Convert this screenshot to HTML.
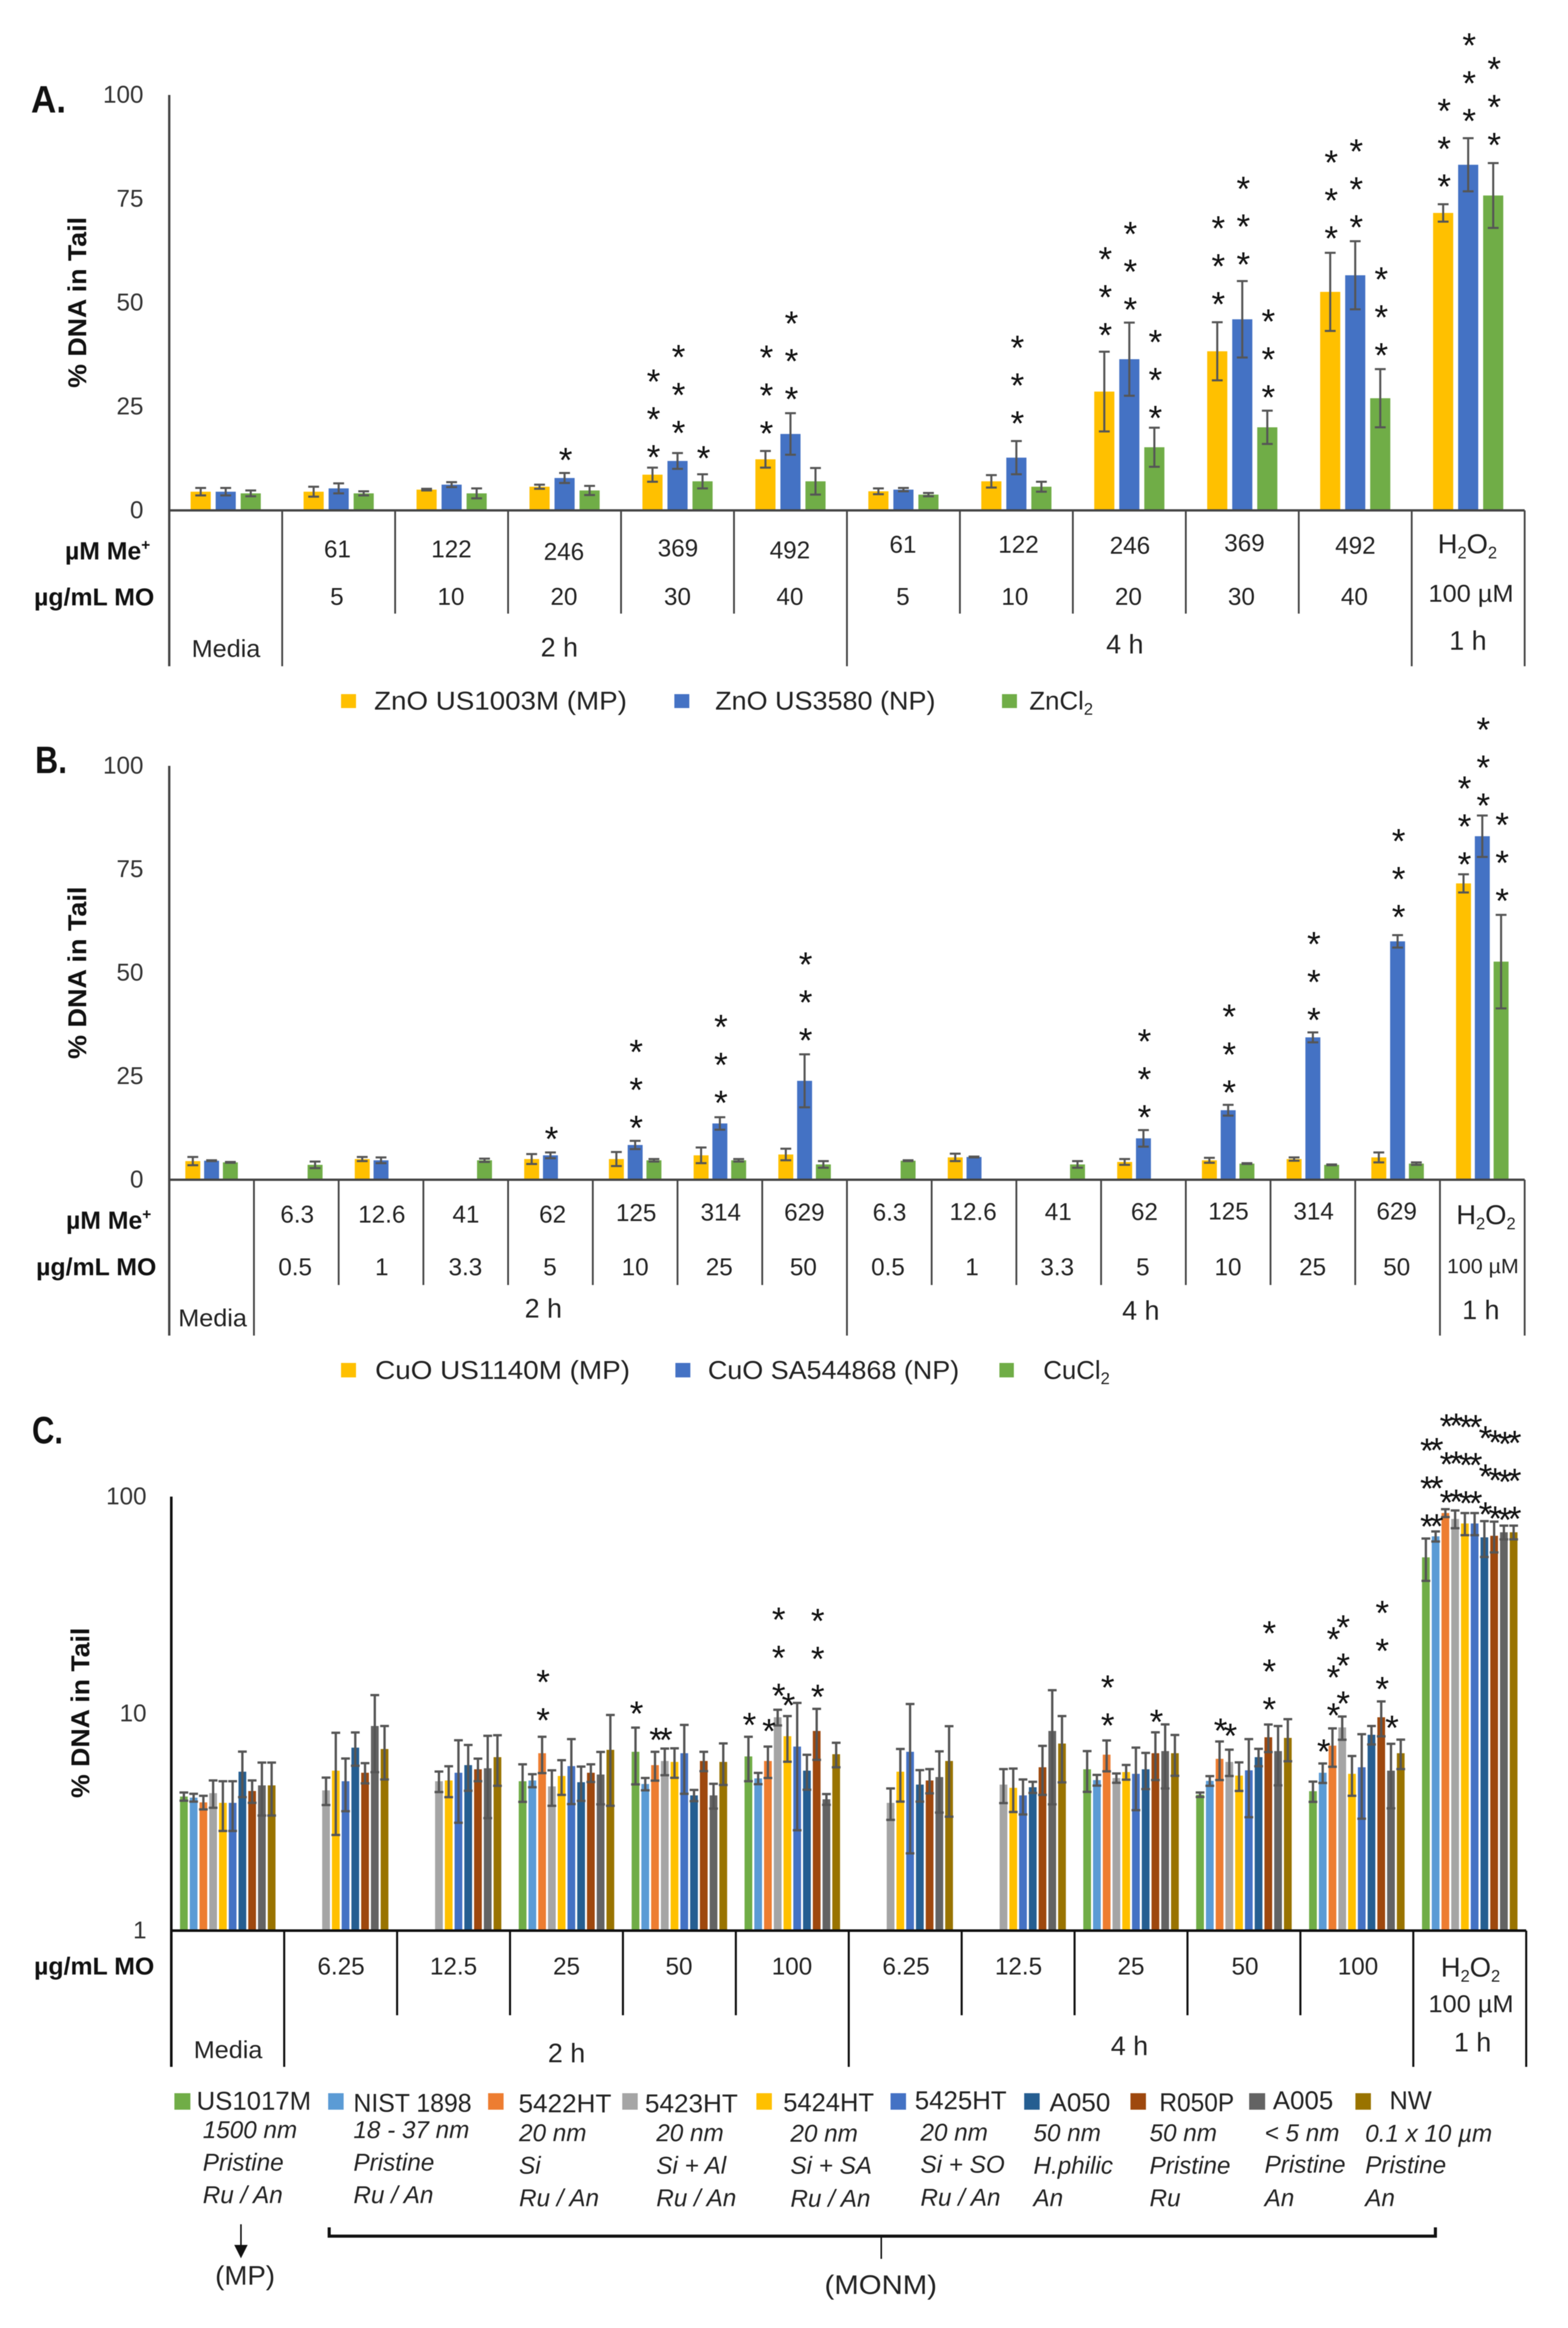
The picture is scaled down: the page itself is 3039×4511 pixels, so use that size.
<!DOCTYPE html>
<html lang="en">
<head>
<meta charset="utf-8">
<title>% DNA in Tail comet assay charts</title>
<style>
html,body{margin:0;padding:0;background:#fff;}
svg{display:block;filter:blur(0.9px);}
text{font-family:"Liberation Sans",sans-serif;fill:#222;}
.c{font-size:47px;text-anchor:middle;}
.h{font-size:52px;text-anchor:middle;}
.b{font-weight:700;fill:#111;}
.lg{font-size:50px;}
.i{font-size:47px;font-style:italic;}
</style>
</head>
<body>
<svg id="figure" xmlns="http://www.w3.org/2000/svg" width="3039" height="4511" viewBox="0 0 3039 4511">
<rect x="0" y="0" width="3039" height="4511" fill="#ffffff"/>

<!-- PANEL A -->
<g id="chart-a"></g>
<g>
<text class="b" x="60" y="218" font-size="74" textLength="68" lengthAdjust="spacingAndGlyphs">A.</text>
<text class="b" transform="translate(167,586) rotate(-90)" font-size="50" text-anchor="middle" textLength="331" lengthAdjust="spacingAndGlyphs">% DNA in Tail</text>
<text class="b" x="126" y="1084" font-size="48">µM Me<tspan font-size="30" dy="-18">+</tspan></text>
<text class="b" x="66" y="1173" font-size="47" textLength="233" lengthAdjust="spacingAndGlyphs">µg/mL MO</text>
<text class="c" x="654" y="1080">61</text>
<text class="c" x="875" y="1080">122</text>
<text class="c" x="1093" y="1085">246</text>
<text class="c" x="1314" y="1078">369</text>
<text class="c" x="1531" y="1082">492</text>
<text class="c" x="1750" y="1071">61</text>
<text class="c" x="1974" y="1071">122</text>
<text class="c" x="2190" y="1073">246</text>
<text class="c" x="2412" y="1068">369</text>
<text class="c" x="2627" y="1073">492</text>
<text class="c" x="2844" y="1072" style="font-size:53px">H<tspan font-size="32" dy="10">2</tspan><tspan dy="-10">O</tspan><tspan font-size="32" dy="10">2</tspan></text>
<text class="c" x="653" y="1172">5</text>
<text class="c" x="874" y="1172">10</text>
<text class="c" x="1093" y="1172">20</text>
<text class="c" x="1313" y="1172">30</text>
<text class="c" x="1531" y="1172">40</text>
<text class="c" x="1750" y="1172">5</text>
<text class="c" x="1967" y="1172">10</text>
<text class="c" x="2187" y="1172">20</text>
<text class="c" x="2406" y="1172">30</text>
<text class="c" x="2625" y="1172">40</text>
<text class="c" x="2851" y="1166" textLength="165" lengthAdjust="spacingAndGlyphs">100 µM</text>
<text class="c" x="438" y="1273" textLength="133" lengthAdjust="spacingAndGlyphs">Media</text>
<text class="h" x="1084" y="1272">2 h</text>
<text class="h" x="2180" y="1266">4 h</text>
<text class="h" x="2845" y="1259">1 h</text>
</g>
<g>
<rect x="661" y="1345" width="29" height="27" fill="#FFC000"/>
<text class="lg" x="725" y="1375" textLength="490" lengthAdjust="spacingAndGlyphs">ZnO US1003M (MP)</text>
<rect x="1307" y="1345" width="29" height="27" fill="#4472C4"/>
<text class="lg" x="1386" y="1375" textLength="427" lengthAdjust="spacingAndGlyphs">ZnO US3580 (NP)</text>
<rect x="1942" y="1345" width="29" height="27" fill="#70AD47"/>
<text class="lg" x="1995" y="1375">ZnCl<tspan font-size="32" dy="10">2</tspan></text>
</g>

<!-- PANEL B -->
<g id="chart-b"></g>
<g>
<text class="b" x="68" y="1498" font-size="74" textLength="62" lengthAdjust="spacingAndGlyphs">B.</text>
<text class="b" transform="translate(167,1885) rotate(-90)" font-size="50" text-anchor="middle" textLength="334" lengthAdjust="spacingAndGlyphs">% DNA in Tail</text>
<text class="b" x="128" y="2381" font-size="48">µM Me<tspan font-size="30" dy="-18">+</tspan></text>
<text class="b" x="70" y="2471" font-size="47" textLength="233" lengthAdjust="spacingAndGlyphs">µg/mL MO</text>
<text class="c" x="576" y="2369">6.3</text>
<text class="c" x="740" y="2369">12.6</text>
<text class="c" x="903" y="2369">41</text>
<text class="c" x="1071" y="2369">62</text>
<text class="c" x="1233" y="2366">125</text>
<text class="c" x="1397" y="2365">314</text>
<text class="c" x="1559" y="2365">629</text>
<text class="c" x="1724" y="2365">6.3</text>
<text class="c" x="1886" y="2364">12.6</text>
<text class="c" x="2051" y="2364">41</text>
<text class="c" x="2218" y="2364">62</text>
<text class="c" x="2381" y="2363">125</text>
<text class="c" x="2546" y="2363">314</text>
<text class="c" x="2707" y="2363">629</text>
<text class="c" x="2880" y="2372" style="font-size:53px">H<tspan font-size="32" dy="10">2</tspan><tspan dy="-10">O</tspan><tspan font-size="32" dy="10">2</tspan></text>
<text class="c" x="572" y="2471">0.5</text>
<text class="c" x="740" y="2471">1</text>
<text class="c" x="902" y="2471">3.3</text>
<text class="c" x="1066" y="2471">5</text>
<text class="c" x="1231" y="2471">10</text>
<text class="c" x="1394" y="2471">25</text>
<text class="c" x="1557" y="2471">50</text>
<text class="c" x="1721" y="2471">0.5</text>
<text class="c" x="1884" y="2471">1</text>
<text class="c" x="2049" y="2471">3.3</text>
<text class="c" x="2215" y="2471">5</text>
<text class="c" x="2380" y="2471">10</text>
<text class="c" x="2544" y="2471">25</text>
<text class="c" x="2707" y="2471">50</text>
<text class="c" x="2874" y="2467" style="font-size:40px" textLength="139" lengthAdjust="spacingAndGlyphs">100 µM</text>
<text class="c" x="412" y="2570" textLength="133" lengthAdjust="spacingAndGlyphs">Media</text>
<text class="h" x="1053" y="2553">2 h</text>
<text class="h" x="2211" y="2557">4 h</text>
<text class="h" x="2870" y="2556">1 h</text>
</g>
<g>
<rect x="661" y="2641" width="29" height="28" fill="#FFC000"/>
<text class="lg" x="727" y="2672" textLength="494" lengthAdjust="spacingAndGlyphs">CuO US1140M (MP)</text>
<rect x="1309" y="2641" width="29" height="28" fill="#4472C4"/>
<text class="lg" x="1372" y="2672" textLength="487" lengthAdjust="spacingAndGlyphs">CuO SA544868 (NP)</text>
<rect x="1937" y="2641" width="28" height="28" fill="#70AD47"/>
<text class="lg" x="2022" y="2672">CuCl<tspan font-size="32" dy="10">2</tspan></text>
</g>

<!-- PANEL C -->
<g id="chart-c"></g>
<g>
<text class="b" x="62" y="2797" font-size="74" textLength="60" lengthAdjust="spacingAndGlyphs">C.</text>
<text class="b" transform="translate(173,3319) rotate(-90)" font-size="50" text-anchor="middle" textLength="330" lengthAdjust="spacingAndGlyphs">% DNA in Tail</text>
<text class="b" x="66" y="3826" font-size="47" textLength="233" lengthAdjust="spacingAndGlyphs">µg/mL MO</text>
<text class="c" x="661" y="3826">6.25</text>
<text class="c" x="879" y="3826">12.5</text>
<text class="c" x="1098" y="3826">25</text>
<text class="c" x="1316" y="3826">50</text>
<text class="c" x="1535" y="3826">100</text>
<text class="c" x="1756" y="3826">6.25</text>
<text class="c" x="1974" y="3826">12.5</text>
<text class="c" x="2192" y="3826">25</text>
<text class="c" x="2413" y="3826">50</text>
<text class="c" x="2632" y="3826">100</text>
<text class="c" x="2850" y="3830" style="font-size:53px">H<tspan font-size="32" dy="10">2</tspan><tspan dy="-10">O</tspan><tspan font-size="32" dy="10">2</tspan></text>
<text class="c" x="2851" y="3899" textLength="165" lengthAdjust="spacingAndGlyphs">100 µM</text>
<text class="c" x="442" y="3988" textLength="133" lengthAdjust="spacingAndGlyphs">Media</text>
<text class="h" x="1098" y="3996">2 h</text>
<text class="h" x="2189" y="3982">4 h</text>
<text class="h" x="2854" y="3975">1 h</text>
</g>
<g>
<rect x="338" y="4056" width="31" height="32" fill="#70AD47"/>
<text class="lg" x="381" y="4088" textLength="222" lengthAdjust="spacingAndGlyphs">US1017M</text>
<rect x="636" y="4056" width="30" height="32" fill="#5B9BD5"/>
<text class="lg" x="685" y="4092" textLength="229" lengthAdjust="spacingAndGlyphs">NIST 1898</text>
<rect x="946" y="4056" width="30" height="32" fill="#ED7D31"/>
<text class="lg" x="1005" y="4093" textLength="180" lengthAdjust="spacingAndGlyphs">5422HT</text>
<rect x="1206" y="4056" width="30" height="32" fill="#A5A5A5"/>
<text class="lg" x="1250" y="4093" textLength="180" lengthAdjust="spacingAndGlyphs">5423HT</text>
<rect x="1466" y="4056" width="30" height="32" fill="#FFC000"/>
<text class="lg" x="1518" y="4091" textLength="176" lengthAdjust="spacingAndGlyphs">5424HT</text>
<rect x="1726" y="4056" width="30" height="32" fill="#4472C4"/>
<text class="lg" x="1773" y="4087" textLength="178" lengthAdjust="spacingAndGlyphs">5425HT</text>
<rect x="1985" y="4056" width="30" height="32" fill="#255E91"/>
<text class="lg" x="2034" y="4091" textLength="118" lengthAdjust="spacingAndGlyphs">A050</text>
<rect x="2191" y="4056" width="30" height="32" fill="#9E480E"/>
<text class="lg" x="2247" y="4091" textLength="145" lengthAdjust="spacingAndGlyphs">R050P</text>
<rect x="2421" y="4056" width="31" height="32" fill="#636363"/>
<text class="lg" x="2467" y="4087" textLength="117" lengthAdjust="spacingAndGlyphs">A005</text>
<rect x="2627" y="4056" width="30" height="32" fill="#997300"/>
<text class="lg" x="2693" y="4087" textLength="82" lengthAdjust="spacingAndGlyphs">NW</text>

<text class="i" x="393" y="4143">1500 nm</text>
<text class="i" x="393" y="4206">Pristine</text>
<text class="i" x="393" y="4269">Ru / An</text>
<text class="i" x="685" y="4143">18 - 37 nm</text>
<text class="i" x="685" y="4206">Pristine</text>
<text class="i" x="685" y="4269">Ru / An</text>
<text class="i" x="1006" y="4149">20 nm</text>
<text class="i" x="1006" y="4212">Si</text>
<text class="i" x="1006" y="4275">Ru / An</text>
<text class="i" x="1272" y="4149">20 nm</text>
<text class="i" x="1272" y="4212">Si + Al</text>
<text class="i" x="1272" y="4275">Ru / An</text>
<text class="i" x="1532" y="4150">20 nm</text>
<text class="i" x="1532" y="4212">Si + SA</text>
<text class="i" x="1532" y="4276">Ru / An</text>
<text class="i" x="1784" y="4148">20 nm</text>
<text class="i" x="1784" y="4210">Si + SO</text>
<text class="i" x="1784" y="4274">Ru / An</text>
<text class="i" x="2003" y="4149">50 nm</text>
<text class="i" x="2003" y="4212">H.philic</text>
<text class="i" x="2003" y="4275">An</text>
<text class="i" x="2228" y="4149">50 nm</text>
<text class="i" x="2228" y="4212">Pristine</text>
<text class="i" x="2228" y="4275">Ru</text>
<text class="i" x="2451" y="4149">&lt; 5 nm</text>
<text class="i" x="2451" y="4210">Pristine</text>
<text class="i" x="2451" y="4275">An</text>
<text class="i" x="2646" y="4150" textLength="246" lengthAdjust="spacingAndGlyphs">0.1 x 10 µm</text>
<text class="i" x="2646" y="4211">Pristine</text>
<text class="i" x="2646" y="4275">An</text>
</g>
<g>
<line x1="467" y1="4310" x2="467" y2="4350" stroke="#111" stroke-width="3"/>
<polygon points="454,4350 480,4350 467,4376" fill="#111"/>
<text class="h" x="475" y="4427" textLength="116" lengthAdjust="spacingAndGlyphs">(MP)</text>
<path d="M638 4316 V4333 H2782 V4316" fill="none" stroke="#111" stroke-width="6"/>
<line x1="1708" y1="4333" x2="1708" y2="4377" stroke="#111" stroke-width="3"/>
<text class="h" x="1707" y="4445" textLength="218" lengthAdjust="spacingAndGlyphs">(MONM)</text>
</g>
</svg>

<script>
// ---------- Panel A data ----------
const categoriesA = ['Media','2h-61','2h-122','2h-246','2h-369','2h-492','4h-61','4h-122','4h-246','4h-369','4h-492','H2O2'];
const tickLabelsA = [100,75,50,25,0];
const znoMP    = [4.5,4.5,5.0,5.7,8.6,12.3,4.6,7.0,28.6,38.3,52.6,71.6];
const znoMPErr = [0.9,1.2,0.2,0.5,1.7,2.0,0.7,1.5,9.6,7.0,9.4,2.1];
const znoNP    = [4.5,5.3,6.2,7.8,11.9,18.4,5.0,12.7,36.4,46.0,56.6,83.2];
const znoNPErr = [0.9,1.2,0.6,1.2,1.9,5.0,0.4,4.0,8.8,9.2,8.2,6.4];
const zncl2    = [4.1,4.1,4.1,4.8,7.0,7.0,3.8,5.7,15.2,20.0,27.0,75.8];
const zncl2Err = [0.7,0.5,1.2,1.1,1.7,3.2,0.4,1.2,4.7,4.0,7.0,7.8];
// significance marks: category index, series index, star count, lift above error bar
const starsA = [[3,1,1,36],[4,0,3,31],[4,1,3,50],[4,2,1,42],[5,0,3,45],[5,1,3,38],[7,1,3,45],[8,0,3,43],[8,1,3,36],[8,2,3,30],[9,0,3,46],[9,1,3,43],[9,2,3,37],[10,0,3,39],[10,1,3,38],[10,2,3,38],[11,0,3,45],[11,1,3,44],[11,2,3,46]];

// ---------- Panel B data ----------
const categoriesB = ['Media','2h-6.3','2h-12.6','2h-41','2h-62','2h-125','2h-314','2h-629','4h-6.3','4h-12.6','4h-41','4h-62','4h-125','4h-314','4h-629','H2O2'];
const tickLabelsB = [100,75,50,25,0];
const cuoMP    = [4.5,null,5.0,null,5.0,5.0,5.9,6.1,null,5.4,null,4.3,4.7,5.0,5.4,71.6];
const cuoMPErr = [1.0,null,0.5,null,1.2,1.7,1.9,1.4,null,0.9,null,0.7,0.6,0.4,1.2,2.2];
const cuoNP    = [4.6,null,4.7,null,5.9,8.4,13.6,23.9,null,5.5,null,10.0,16.8,34.4,57.6,83.0];
const cuoNPErr = [0.1,null,0.7,null,0.7,1.0,1.5,6.4,null,0.1,null,2.0,1.3,1.2,1.5,5.0];
const cucl2    = [4.2,3.6,null,4.7,null,4.7,4.7,3.7,4.6,null,3.7,null,3.9,3.6,3.9,52.7];
const cucl2Err = [0.1,0.8,null,0.4,null,0.3,0.3,0.8,0.1,null,0.8,null,0.1,0.1,0.3,11.3];
const starsB = [[4,1,1,37],[5,1,3,36],[6,1,3,39],[7,1,3,38],[11,1,3,36],[12,1,3,35],[13,1,3,35],[14,1,3,46],[15,0,3,30],[15,1,3,30],[15,2,3,38]];

// ---------- Panel C data ----------
const categoriesC = ['Media','2h-6.25','2h-12.5','2h-25','2h-50','2h-100','4h-6.25','4h-12.5','4h-25','4h-50','4h-100','H2O2'];
const tickLabelsC = [100,10,1];
const us1017m    = [4.15,null,null,4.88,6.67,6.35,null,null,5.54,4.23,4.39,52.5];
const us1017mErr = [0.18,null,null,0.96,1.95,1.47,null,null,1.18,0.1,0.47,11.6];
const nist1898    = [4.1,null,null,4.92,4.74,5.03,null,null,4.94,4.9,5.34,65.6];
const nist1898Err = [0.17,null,null,0.34,0.31,0.3,null,null,0.28,0.25,0.55,3.5];
const ht5422    = [3.9,null,null,6.57,5.79,6.05,null,null,6.47,6.19,7.12,84];
const ht5422Err = [0.28,null,null,1.25,0.88,1.0,null,null,1.05,1.25,1.43,3.5];
const ht5423    = [4.3,4.43,4.88,4.62,6.05,9.62,3.88,4.71,5.05,5.99,8.64,78.9];
const ht5423Err = [0.62,0.64,0.53,0.86,0.85,0.8,0.64,0.84,0.25,0.83,1.06,7.4];
const ht5424    = [3.88,5.46,4.92,5.16,5.99,7.87,5.4,4.55,5.38,5.18,5.28,75.2];
const ht5424Err = [1.0,2.7,0.8,0.94,0.93,1.87,1.47,1.03,0.42,0.78,1.1,8.8];
const ht5425    = [3.88,4.88,5.34,5.73,6.57,7.05,6.67,4.2,5.28,5.48,5.66,75.2];
const ht5425Err = [1.0,1.33,2.2,1.9,2.3,4.15,4.4,0.77,1.69,2.15,2.38,8.8];
const a050    = [5.4,6.97,5.79,4.83,4.2,5.46,4.71,4.58,5.54,6.3,7.99,64.9];
const a050Err = [1.28,1.22,1.38,0.87,0.25,1.0,0.78,0.27,1.05,0.58,0.78,12.2];
const r050p    = [4.4,5.34,5.54,5.34,6.05,8.32,4.92,5.66,6.57,7.78,9.62,66];
const r050pErr = [0.52,0.57,0.66,0.5,0.62,2.2,0.63,1.44,1.63,1.13,1.76,10.7];
const a005    = [4.67,8.77,5.6,5.24,4.2,4.03,5.1,8.32,6.72,6.72,5.46,68.5];
const a005Err = [1.28,3.4,2.3,1.42,0.55,0.23,1.6,4.5,2.2,2.05,1.8,5];
const nw    = [4.67,6.87,6.3,6.81,5.99,6.5,6.05,7.28,6.57,7.73,6.57,68.5];
const nwErr = [1.28,1.9,1.65,3.05,1.3,0.84,2.7,2.46,1.4,1.7,1.02,5];
const starsC = [[3,2,2,43],[4,0,1,38],[4,2,1,34],[4,3,1,28],[5,0,1,34],[5,2,1,41],[5,3,3,38],[5,4,1,32],[5,7,3,34],[8,2,2,40],[8,7,1,31],[9,2,1,32],[9,3,1,38],[9,7,3,40],[10,1,1,34],[10,2,3,36],[10,3,3,36],[10,7,3,35],[10,8,1,42],[11,0,3,34],[11,1,3,21],[11,2,3,24],[11,3,3,28],[11,4,3,30],[11,5,3,30],[11,6,3,24],[11,7,3,17],[11,8,3,22],[11,9,3,24]];

const SVGNS = 'http://www.w3.org/2000/svg';

function drawChart(cfg) {
  const g = document.getElementById(cfg.groupId);
  const bandW = (cfg.xRight - cfg.xLeft) / cfg.categories.length;
  const catCenter = function (c) { return cfg.xLeft + (c + 0.5) * bandW; };
  const barCenter = function (c, s) { return catCenter(c) + (s - (cfg.series.length - 1) / 2) * cfg.step; };

  cfg.series.forEach(function (values, s) {
    values.forEach(function (v, c) {
      if (v === null) return;
      const top = cfg.y(v);
      const bx = barCenter(c, s);
      const rect = document.createElementNS(SVGNS, 'rect');
      rect.setAttribute('x', bx - cfg.barW / 2);
      rect.setAttribute('y', top);
      rect.setAttribute('width', cfg.barW);
      rect.setAttribute('height', cfg.y0 - top);
      rect.setAttribute('fill', cfg.colors[s]);
      
      
      g.appendChild(rect);
    });
  });

  cfg.series.forEach(function (values, s) {
    values.forEach(function (v, c) {
      if (v === null) return;
      const e = cfg.errors[s][c];
      const hi = cfg.y(v + e);
      const lo = cfg.y(Math.max(v - e, cfg.floor));
      const bx = barCenter(c, s);
      const path = document.createElementNS(SVGNS, 'path');
      path.setAttribute('d', 'M' + (bx - cfg.capW / 2) + ' ' + hi + 'H' + (bx + cfg.capW / 2) +
        'M' + bx + ' ' + hi + 'V' + lo +
        'M' + (bx - cfg.capW / 2) + ' ' + lo + 'H' + (bx + cfg.capW / 2));
      path.setAttribute('fill', 'none');
      path.setAttribute('stroke', '#555555');
      path.setAttribute('stroke-width', cfg.errW);
      
      
      g.appendChild(path);
    });
  });

  cfg.stars.forEach(function (st) {
    const c = st[0], s = st[1], count = st[2], lift = st[3];
    const v = cfg.series[s][c];
    const errTop = cfg.y(v + cfg.errors[s][c]);
    for (let i = 0; i < count; i++) {
      const t = document.createElementNS(SVGNS, 'text');
      t.setAttribute('x', barCenter(c, s) + 2);
      t.setAttribute('y', errTop - lift - i * cfg.starGap + 0.5 * cfg.starSize);
      t.setAttribute('text-anchor', 'middle');
      t.setAttribute('font-size', cfg.starSize);
      t.setAttribute('style', 'fill:#111');
      t.textContent = '*';
      
      
      g.appendChild(t);
    }
  });

  const yAxis = document.createElementNS(SVGNS, 'line');
  yAxis.setAttribute('x1', cfg.xLeft);
  yAxis.setAttribute('x2', cfg.xLeft);
  yAxis.setAttribute('y1', cfg.y(cfg.tickLabels[0]));
  yAxis.setAttribute('y2', cfg.tallBottom);
  yAxis.setAttribute('stroke', cfg.axisColor);
  yAxis.setAttribute('stroke-width', cfg.axisW);
  
  
  g.appendChild(yAxis);

  const xAxis = document.createElementNS(SVGNS, 'line');
  xAxis.setAttribute('x1', cfg.xLeft);
  xAxis.setAttribute('x2', cfg.xRight);
  xAxis.setAttribute('y1', cfg.y0);
  xAxis.setAttribute('y2', cfg.y0);
  xAxis.setAttribute('stroke', cfg.axisColor);
  xAxis.setAttribute('stroke-width', cfg.axisW);
  
  
  g.appendChild(xAxis);

  for (let d = 1; d <= cfg.categories.length; d++) {
    const tall = cfg.tallDividers.indexOf(d) >= 0;
    const line = document.createElementNS(SVGNS, 'line');
    const dx = cfg.xLeft + d * bandW;
    line.setAttribute('x1', dx);
    line.setAttribute('x2', dx);
    line.setAttribute('y1', cfg.y0);
    line.setAttribute('y2', tall ? cfg.tallBottom : cfg.shortBottom);
    line.setAttribute('stroke', cfg.axisColor);
    line.setAttribute('stroke-width', cfg.axisW - 1);
    
    
    g.appendChild(line);
  }

  cfg.tickLabels.forEach(function (tick) {
    const t = document.createElementNS(SVGNS, 'text');
    t.setAttribute('x', cfg.tickX);
    t.setAttribute('y', cfg.y(tick) + 15);
    t.setAttribute('text-anchor', 'end');
    t.setAttribute('font-size', 47);
    t.setAttribute('style', 'fill:#333');
    t.textContent = String(tick);
    
    
    g.appendChild(t);
  });
}

function linearY(y0, yTop) {
  return function (v) { return y0 - (y0 - yTop) * v / 100; };
}
function logY(y1, yTop) {
  return function (v) { return y1 - (y1 - yTop) * Math.log10(v) / 2; };
}

drawChart({
  id: 'a', groupId: 'chart-a', categories: categoriesA, tickLabels: tickLabelsA,
  series: [znoMP, znoNP, zncl2], errors: [znoMPErr, znoNPErr, zncl2Err],
  seriesNames: ['zno-mp', 'zno-np', 'zncl2'], colors: ['#FFC000', '#4472C4', '#70AD47'],
  xLeft: 328, xRight: 2955, y0: 989, y: linearY(989, 184), floor: 0,
  barW: 39, step: 48.5, capW: 21, errW: 4, stars: starsA, starGap: 73.4, starSize: 68,
  axisColor: '#444444', axisW: 4.5, tallDividers: [1, 6, 11, 12], tallBottom: 1291, shortBottom: 1189, tickX: 278
});

drawChart({
  id: 'b', groupId: 'chart-b', categories: categoriesB, tickLabels: tickLabelsB,
  series: [cuoMP, cuoNP, cucl2], errors: [cuoMPErr, cuoNPErr, cucl2Err],
  seriesNames: ['cuo-mp', 'cuo-np', 'cucl2'], colors: ['#FFC000', '#4472C4', '#70AD47'],
  xLeft: 328, xRight: 2955, y0: 2286, y: linearY(2286, 1484), floor: 0,
  barW: 29, step: 36.4, capW: 21, errW: 4, stars: starsB, starGap: 73.5, starSize: 68,
  axisColor: '#444444', axisW: 4.5, tallDividers: [1, 8, 15, 16], tallBottom: 2588, shortBottom: 2490, tickX: 278
});

drawChart({
  id: 'c', groupId: 'chart-c', categories: categoriesC, tickLabels: tickLabelsC,
  series: [us1017m, nist1898, ht5422, ht5423, ht5424, ht5425, a050, r050p, a005, nw],
  errors: [us1017mErr, nist1898Err, ht5422Err, ht5423Err, ht5424Err, ht5425Err, a050Err, r050pErr, a005Err, nwErr],
  seriesNames: ['us1017m', 'nist-1898', '5422ht', '5423ht', '5424ht', '5425ht', 'a050', 'r050p', 'a005', 'nw'],
  colors: ['#70AD47', '#5B9BD5', '#ED7D31', '#A5A5A5', '#FFC000', '#4472C4', '#255E91', '#9E480E', '#636363', '#997300'],
  xLeft: 332, xRight: 2958, y0: 3741, y: logY(3741, 2900), floor: 1,
  barW: 15, step: 18.9, capW: 17, errW: 4.5, stars: starsC, starGap: 73.7, starSize: 68,
  axisColor: '#0f0f0f', axisW: 5, tallDividers: [1, 6, 11, 12], tallBottom: 4005, shortBottom: 3905, tickX: 284
});
</script>
</body>
</html>
